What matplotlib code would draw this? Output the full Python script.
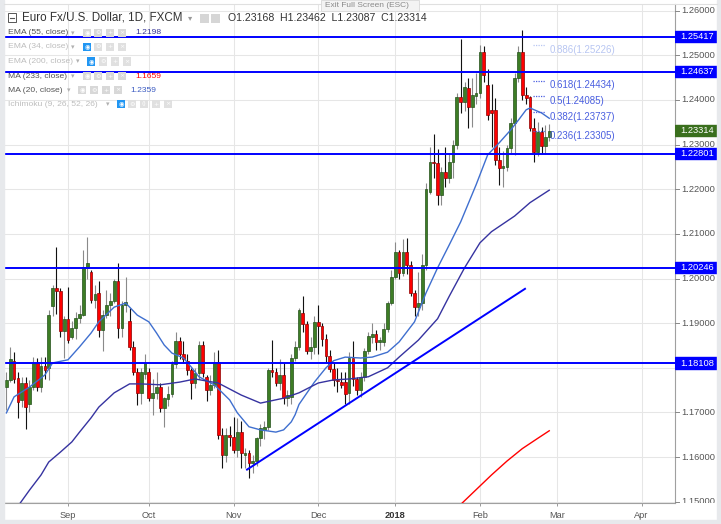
import matplotlib
matplotlib.use('Agg')
import matplotlib.pyplot as plt
import numpy as np
from matplotlib.patches import Rectangle

plt.rcParams['font.family'] = ['Liberation Sans', 'DejaVu Sans']

# ---------------- data ----------------
first_bar = -16  # 10 Aug 2017; bar 0 = 1 Sep 2017
opens = [1.1757,1.1773,1.1815,1.1777,1.1727,1.1766,1.1718,1.1757,1.1811,1.1757,1.1804,1.1800,1.1938,1.1978,1.1972,1.1882,
         1.1909,1.1870,1.1890,1.1912,1.1918,1.2023,1.2015,1.1952,1.1967,1.1885,1.1918,1.1941,1.1950,1.1994,1.1889,1.1941,1.1905,1.1847,1.1791,1.1744,1.1787,
         1.1791,1.1733,1.1744,1.1757,1.1711,1.1730,1.1742,1.1809,1.1860,1.1831,1.1815,1.1795,1.1766,1.1789,1.1852,1.1780,1.1751,1.1762,1.1814,1.1650,1.1605,1.1650,
         1.1645,1.1616,1.1656,1.1605,1.1609,1.1587,1.1592,1.1643,1.1660,1.1668,1.1796,1.1791,1.1767,1.1784,1.1733,1.1735,1.1822,1.1847,1.1922,1.1898,1.1838,1.1847,
         1.1903,1.1894,1.1864,1.1826,1.1797,1.1773,1.1768,1.1768,1.1743,1.1823,1.1774,1.1750,1.1779,1.1837,1.1869,1.1876,1.1858,1.1858,1.1888,1.1945,
         1.2004,1.2060,1.2012,1.2059,1.2030,1.1967,1.1936,1.1945,1.2030,1.2194,1.2261,1.2259,1.2187,1.2239,1.2225,1.2262,1.2299,1.2406,1.2395,1.2427,1.2384,1.2410,
         1.2416,1.2507,1.2434,1.2378,1.2378,1.2266,1.2248,1.2250,1.2292,1.2348,1.2449,1.2507,1.2411,1.2406,1.2337,1.2284,1.2329,1.2296,1.23168]
highs = [1.1791,1.1847,1.1835,1.1790,1.1780,1.1779,1.1773,1.1825,1.1822,1.1825,1.1825,1.1930,1.1985,1.2070,1.1978,1.1915,
         1.1980,1.1905,1.1925,1.1940,1.2063,1.2092,1.2020,1.1985,1.1995,1.1929,1.1975,1.1967,1.2000,1.2034,1.1950,1.2003,1.1935,1.1860,1.1800,1.1800,1.1830,
         1.1800,1.1775,1.1790,1.1765,1.1735,1.1760,1.1815,1.1880,1.1870,1.1860,1.1830,1.1800,1.1800,1.1860,1.1860,1.1785,1.1785,1.1835,1.1840,1.1665,1.1665,1.1670,
         1.1690,1.1688,1.1680,1.1620,1.1615,1.1605,1.1645,1.1675,1.1680,1.1800,1.1862,1.1800,1.1820,1.1810,1.1750,1.1830,1.1860,1.1935,1.1960,1.1905,1.1870,1.1915,
         1.1940,1.1900,1.1875,1.1840,1.1810,1.1800,1.1790,1.1790,1.1835,1.1860,1.1780,1.1790,1.1845,1.1880,1.1900,1.1885,1.1870,1.1900,1.1950,1.2020,
         1.2081,1.2065,1.2088,1.2090,1.2040,1.1975,1.2015,1.2055,1.2215,1.2295,1.2323,1.2290,1.2250,1.2295,1.2280,1.2310,1.2415,1.2537,1.2440,1.2450,1.2450,1.2460,
         1.2523,1.2520,1.2470,1.2435,1.2405,1.2295,1.2285,1.2300,1.2360,1.2460,1.2520,1.2557,1.2430,1.2410,1.2360,1.2350,1.2340,1.2345,1.23462]
lows = [1.1705,1.1768,1.1765,1.1688,1.1712,1.1662,1.1700,1.1750,1.1747,1.1745,1.1775,1.1772,1.1915,1.1920,1.1870,1.1823,
        1.1855,1.1865,1.1865,1.1900,1.1915,1.2000,1.1945,1.1935,1.1870,1.1838,1.1912,1.1915,1.1945,1.1867,1.1870,1.1925,1.1840,1.1785,1.1717,1.1720,1.1775,
        1.1725,1.1695,1.1730,1.1700,1.1667,1.1715,1.1735,1.1800,1.1820,1.1810,1.1785,1.1730,1.1755,1.1775,1.1780,1.1725,1.1740,1.1755,1.1640,1.1575,1.1590,1.1625,
        1.1610,1.1600,1.1575,1.1575,1.1554,1.1565,1.1580,1.1625,1.1640,1.1660,1.1780,1.1760,1.1750,1.1720,1.1715,1.1720,1.1815,1.1840,1.1880,1.1830,1.1820,1.1830,
        1.1830,1.1850,1.1810,1.1790,1.1760,1.1745,1.1755,1.1720,1.1720,1.1760,1.1740,1.1735,1.1770,1.1830,1.1855,1.1840,1.1840,1.1850,1.1880,1.1940,
        1.2000,1.2000,1.2005,1.2010,1.1960,1.1915,1.1915,1.1930,1.2020,1.2190,1.2225,1.2165,1.2165,1.2205,1.2215,1.2225,1.2290,1.2370,1.2376,1.2337,1.2340,1.2390,
        1.2405,1.2440,1.2355,1.2295,1.2255,1.2210,1.2205,1.2240,1.2280,1.2277,1.2440,1.2400,1.2390,1.2330,1.2260,1.2275,1.2280,1.2280,1.23087]
closes = [1.1773,1.1820,1.1775,1.1724,1.1766,1.1713,1.1757,1.1811,1.1757,1.1804,1.1795,1.1918,1.1978,1.1972,1.1883,1.1909,
          1.1862,1.1890,1.1912,1.1920,1.2025,1.2034,1.1952,1.1966,1.1885,1.1918,1.1941,1.1950,1.1994,1.1889,1.1941,1.1947,1.1847,1.1791,1.1744,1.1791,1.1811,
          1.1733,1.1744,1.1757,1.1711,1.1733,1.1742,1.1809,1.1860,1.1831,1.1820,1.1795,1.1766,1.1789,1.1852,1.1789,1.1751,1.1762,1.1814,1.1650,1.1605,1.1650,1.1645,
          1.1616,1.1656,1.1609,1.1609,1.1587,1.1592,1.1643,1.1666,1.1668,1.1796,1.1790,1.1767,1.1785,1.1733,1.1740,1.1822,1.1847,1.1929,1.1898,1.1838,1.1847,1.1903,
          1.1894,1.1864,1.1826,1.1797,1.1773,1.1770,1.1761,1.1741,1.1823,1.1774,1.1750,1.1779,1.1837,1.1871,1.1876,1.1858,1.1862,1.1888,1.1945,1.2004,
          1.2060,1.2012,1.2059,1.2030,1.1967,1.1936,1.1945,1.2030,1.2200,1.2261,1.2259,1.2187,1.2239,1.2225,1.2262,1.2299,1.2406,1.2395,1.2429,1.2384,1.2412,1.2416,
          1.2507,1.2456,1.2367,1.2370,1.2266,1.2248,1.2252,1.2292,1.2348,1.2449,1.2507,1.2411,1.2404,1.2337,1.2284,1.2329,1.2296,1.2317,1.23314]

month_ticks = [0, 21, 43, 65, 85, 107, 127, 149]
month_labels = ['Sep', 'Oct', 'Nov', 'Dec', '2018', 'Feb', 'Mar', 'Apr']

ma20_idx = [-16,-14,-10,-6,-4,0,3,6,8,12,15,18,21,23,25,27,30,32,34,38,42,44,47,50,54,56,58,59,60,64,67,69,72,76,79,83,86,90,93,96,99,102,106,109,112,115,117,119,120,123,125]
ma20_val = [1.1699,1.1735,1.1757,1.1784,1.1811,1.1818,1.1847,1.1878,1.1903,1.1936,1.1945,1.1918,1.1903,1.1878,1.1851,1.1833,1.1822,1.1802,1.1780,1.1762,1.1728,1.1699,1.1668,1.1661,1.1656,1.1661,1.1679,1.1695,1.1718,1.1768,1.1800,1.1816,1.1824,1.1822,1.1824,1.1835,1.1858,1.1903,1.1968,1.2024,1.2075,1.2127,1.2210,1.2277,1.2304,1.2333,1.2355,1.2378,1.2382,1.2371,1.2359]
ema55_idx = [-13,-10,-7,-5,-2,1,3,6,8,12,16,19,24,29,33,39,45,50,56,60,65,69,73,78,83,86,91,96,99,103,107,110,116,120,125]
ema55_val = [1.1490,1.1526,1.1560,1.1589,1.1611,1.1634,1.1656,1.1688,1.1712,1.1744,1.1764,1.1764,1.1762,1.1768,1.1775,1.1766,1.1739,1.1721,1.1732,1.1744,1.1766,1.1773,1.1775,1.1780,1.1800,1.1824,1.1862,1.1910,1.1960,1.2024,1.2080,1.2105,1.2140,1.2170,1.2198]
ma233_idx = [102, 106, 110, 114, 118, 122, 125]
ma233_val = [1.1494, 1.1527, 1.1560, 1.1591, 1.1619, 1.1642, 1.1659]

h_levels = [1.25417, 1.24637, 1.22801, 1.20246, 1.18108]
trend_idx = [46.5, 118.7]
trend_val = [1.1572, 1.1977]
fib_ratios = ['0.886', '0.618', '0.5', '0.382', '0.236']
fib_levels = [1.25226, 1.24434, 1.24085, 1.23737, 1.23305]
fib_span = [120.8, 124.0]
last_price = 1.23314
price_ticks = [1.15, 1.16, 1.17, 1.18, 1.19, 1.20, 1.21, 1.22, 1.23, 1.24, 1.25, 1.26]
legend_rows = [('EMA (55, close)', '1.2198', True), ('EMA (34, close)', None, False),
               ('EMA (200, close)', None, False), ('MA (233, close)', '1.1659', True),
               ('MA (20, close)', '1.2359', True), ('Ichimoku (9, 26, 52, 26)', None, False)]
title = 'Euro Fx/U.S. Dollar, 1D, FXCM'
ohlc = 'O1.23168  H1.23462  L1.23087  C1.23314'

# ---------------- layout ----------------
W, H = 721, 524
fig = plt.figure(figsize=(W / 100, H / 100), dpi=100)
fig.patch.set_facecolor('white')

def fx(x):
    return x / W

def fy(y):
    return 1 - y / H

PL, PR, PT, PB = 4, 675, 4, 503
ax = fig.add_axes([fx(PL), fy(PB), (PR - PL) / W, (PB - PT) / H])
ylo, yhi = 1.14972, 1.2615
xlo, xhi = -16.62, 157.66
ax.set_xlim(xlo, xhi)
ax.set_ylim(ylo, yhi)
ax.set_facecolor('white')

# grid
ax.set_yticks(price_ticks)
ax.set_xticks(month_ticks)
ax.grid(True, color='#e6e6e6', lw=0.75, zorder=0)
ax.set_axisbelow(True)
ax.tick_params(axis='y', left=False, right=False, labelleft=False)
ax.tick_params(axis='x', direction='out', length=2.5, width=0.7, color='#999999',
               labelsize=6.7, labelcolor='#555555', pad=3.5)
ax.set_xticklabels(month_labels)
for lab in ax.get_xticklabels():
    if lab.get_text() == '2018':
        lab.set_fontweight('bold')
        lab.set_color('#333333')
for s in ['top', 'left']:
    ax.spines[s].set_visible(False)
for s in ['right', 'bottom']:
    ax.spines[s].set_color('#a0a0a0')
    ax.spines[s].set_linewidth(0.8)

# candles
idx = np.arange(first_bar, first_bar + len(closes))
o = np.array(opens); h = np.array(highs); l = np.array(lows); c = np.array(closes)
up = c >= o
wick_cols = np.where(up, '#8a8a8a', '#111111')
ax.vlines(idx, l, h, colors=wick_cols, lw=0.8, zorder=2)
body_h = np.maximum(np.abs(c - o), 0.00018)
body_b = np.minimum(o, c)
ax.bar(idx[up], body_h[up], bottom=body_b[up], width=0.72, color='#3d7d25',
       edgecolor='#24501a', lw=0.5, zorder=3)
ax.bar(idx[~up], body_h[~up], bottom=body_b[~up], width=0.72, color='#ff0000',
       edgecolor='#8c0000', lw=0.5, zorder=3)

# indicator lines
ax.plot(ma20_idx, ma20_val, color='#3f6fcf', lw=1.0, zorder=4)
ax.plot(ema55_idx, ema55_val, color='#3633a0', lw=1.0, zorder=4)
ax.plot(ma233_idx, ma233_val, color='#ff0000', lw=1.0, zorder=4)

# horizontal levels and trend line
for lv in h_levels:
    ax.axhline(lv, color='#0000ff', lw=1.4, zorder=5)
ax.plot(trend_idx, trend_val, color='#0000ff', lw=1.4, zorder=5)

# fib levels
for r, lv in zip(fib_ratios, fib_levels):
    col = '#b8c6f2' if r == '0.886' else '#4a5fe0'
    ax.plot(fib_span, [lv, lv], color=col, lw=0.9, ls=(0, (1, 1)), zorder=5)
    ax.text(125.2, lv - 0.00108, f'{r}({lv:.5f})', fontsize=7, color=col,
            ha='left', va='center', zorder=6)

# ---------------- right price scale ----------------
axr = fig.add_axes([fx(PR), fy(PB), 46 / W, (PB - PT) / H])
axr.set_xlim(0, 46)
axr.set_ylim(ylo, yhi)
axr.axis('off')
bh = 0.00125
box_levels = h_levels + [last_price]
for p in price_ticks:
    axr.plot([0, 3.5], [p, p], color='#888888', lw=0.7, clip_on=True)
    # labels fully hidden behind a level box are not drawn
    if min(abs(p - b) for b in box_levels) < 0.0012:
        continue
    axr.text(6.5, p, f'{p:.5f}', fontsize=6.7, color='#555555', ha='left',
             va='center', clip_on=True)
for lv in h_levels:
    axr.add_patch(Rectangle((0, lv - bh), 46, 2 * bh, color='#0000ff', zorder=5))
    axr.text(5.5, lv, f'{lv:.5f}', fontsize=6.7, color='white', ha='left',
             va='center', zorder=6)
axr.add_patch(Rectangle((0, last_price - bh), 46, 2 * bh, color='#3a6f1d', zorder=5))
axr.text(5.5, last_price, f'{last_price:.5f}', fontsize=6.7, color='white',
         ha='left', va='center', zorder=6)

# ---------------- frame ----------------
def frect(x0, y0, w, hgt, **kw):
    fig.add_artist(Rectangle((fx(x0), fy(y0 + hgt)), w / W, hgt / H,
                             transform=fig.transFigure, **kw))

frect(0, 0, 4, H, color='#e7e9ec', zorder=10)
frect(0, 520, W, 4, color='#e7e9ec', zorder=10)
frect(717, 0, 4, H, color='#e7e9ec', zorder=10)
fig.add_artist(plt.Line2D([fx(4), fx(717)], [fy(4), fy(4)], transform=fig.transFigure,
                          color='#e0e0e0', lw=0.8, zorder=10))

# exit full screen
frect(321, 0, 98, 11, facecolor='#f3f3f3', edgecolor='#d8d8d8', lw=0.6, zorder=11)
fig.text(fx(325), fy(5.5), 'Exit Full Screen (ESC)', fontsize=6.0, color='#8a8a8a',
         ha='left', va='center', zorder=12)

# ---------------- title / legend ----------------
frect(8, 13, 8, 9, facecolor='white', edgecolor='#555555', lw=0.7, zorder=11)
fig.add_artist(plt.Line2D([fx(10), fx(14)], [fy(17.5), fy(17.5)], transform=fig.transFigure,
                          color='#555555', lw=0.8, zorder=12))
fig.text(fx(22.5), fy(18), title, fontsize=8.4, color='#333333', ha='left', va='center', zorder=12)
fig.text(fx(188), fy(18), '▾', fontsize=6, color='#999999', ha='left', va='center',
         family='DejaVu Sans', zorder=12)
for xi in (200, 211):
    frect(xi, 13.5, 9, 9, facecolor='#d6d6d6', edgecolor='none', zorder=11)
fig.text(fx(228), fy(18), ohlc, fontsize=7.6, color='#333333', ha='left', va='center', zorder=12)

row_y = [33, 47, 61.5, 76, 90, 104]
chev_x = [71, 71, 76, 71, 67, 106]
icon_x = [[83, 94, 106, 118], [83, 94, 106, 118], [87, 99, 111, 123],
          [83, 94, 106, 118], [78, 90, 102, 114], [117, 128, 140, 152, 164]]
val_x = [135, None, None, 135, 130, None]
val_col = ['#343496', None, None, '#ff0000', '#3c5cc2', None]
glyphs = ['◉', '⚙', '+', '×']
for k, (name, val, vis) in enumerate(legend_rows):
    yy = row_y[k]
    tcol = '#555555' if vis else '#bdbdbd'
    fig.text(fx(8.3), fy(yy), name, fontsize=6.1, color=tcol, ha='left', va='center', zorder=12)
    fig.text(fx(chev_x[k]), fy(yy), '▾', fontsize=5, color='#b0b0b0', ha='left', va='center',
             family='DejaVu Sans', zorder=12)
    for j, xi in enumerate(icon_x[k]):
        if not vis and j == 0:
            fc = '#2196f3'
        else:
            fc = '#d8d8d8' if vis else '#e0e0e0'
        frect(xi, yy - 4, 8, 8, facecolor=fc, edgecolor='none', zorder=11)
        g = glyphs[0] if j == 0 else (glyphs[1] if j == 1 else ('+' if j == len(icon_x[k]) - 2 else '×'))
        if k == 5 and j == 2:
            g = '()'
        fig.text(fx(xi + 4), fy(yy), g, fontsize=4.5, color='white', ha='center', va='center',
                 family='DejaVu Sans', zorder=12)
    if val:
        fig.text(fx(val_x[k]), fy(yy), val, fontsize=6.1, color=val_col[k], ha='left',
                 va='center', zorder=12)

fig.savefig('out.png', dpi=100, facecolor=fig.get_facecolor())
